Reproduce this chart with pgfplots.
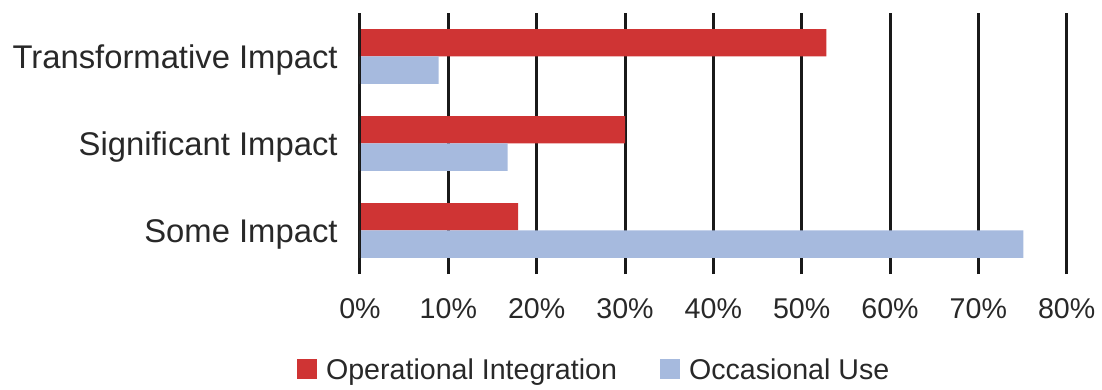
\documentclass[border=0pt]{standalone}
\usepackage{fontspec}
\setmainfont{Liberation Sans}
\usepackage{pgfplots}
\pgfplotsset{compat=1.18}
\definecolor{barred}{RGB}{207,52,52}
\definecolor{barblue}{RGB}{166,186,222}
\definecolor{txt}{RGB}{40,40,40}
\begin{document}
\begin{tikzpicture}
\useasboundingbox (-180pt,-58pt) rectangle (371pt,137pt);
\begin{axis}[
  at={(0,0)}, anchor=south west,
  scale only axis, width=353.35pt, height=130.5pt,
  xbar, bar width=0.316,
  xmin=0, xmax=80, ymin=-0.5, ymax=2.5,
  xtick={0,10,...,80},
  xticklabels={0\%,10\%,20\%,30\%,40\%,50\%,60\%,70\%,80\%},
  ytick={0,1,2},
  yticklabels={Some Impact,Significant Impact,Transformative Impact},
  major tick length=0pt,
  axis line style={draw=none},
  xmajorgrids, grid style={draw=black!90, line width=1.5pt},
  x tick label style={font=\fontsize{14.3}{17}\selectfont, text=txt, anchor=north, inner sep=0pt, yshift=-12pt},
  y tick label style={font=\fontsize{16.4}{19}\selectfont, text=txt, anchor=base east, inner sep=0pt, xshift=-11pt, yshift=-5.9pt},
  legend style={at={(0.33,-0.371)}, anchor=center, draw=none, fill=none,
    legend columns=2, font=\fontsize{14.3}{17}\selectfont, text=txt,
    /tikz/every even column/.append style={column sep=21.5pt},
    /tikz/every odd column/.append style={column sep=4.5pt},
    nodes={inner sep=0pt}},
  legend image code/.code={\fill[#1] (0pt,-4pt) rectangle (10pt,6pt);},
]
\addplot[fill=barred, draw=none, bar shift=0.158] coordinates {(17.9,0) (30.0,1) (52.8,2)};
\addplot[fill=barblue, draw=none, bar shift=-0.158] coordinates {(75.1,0) (16.7,1) (8.9,2)};
\legend{Operational Integration, Occasional Use}
\draw[black!90, line width=1.5pt] (axis cs:0,-0.5) -- (axis cs:0,2.5);
\end{axis}
\end{tikzpicture}
\end{document}
